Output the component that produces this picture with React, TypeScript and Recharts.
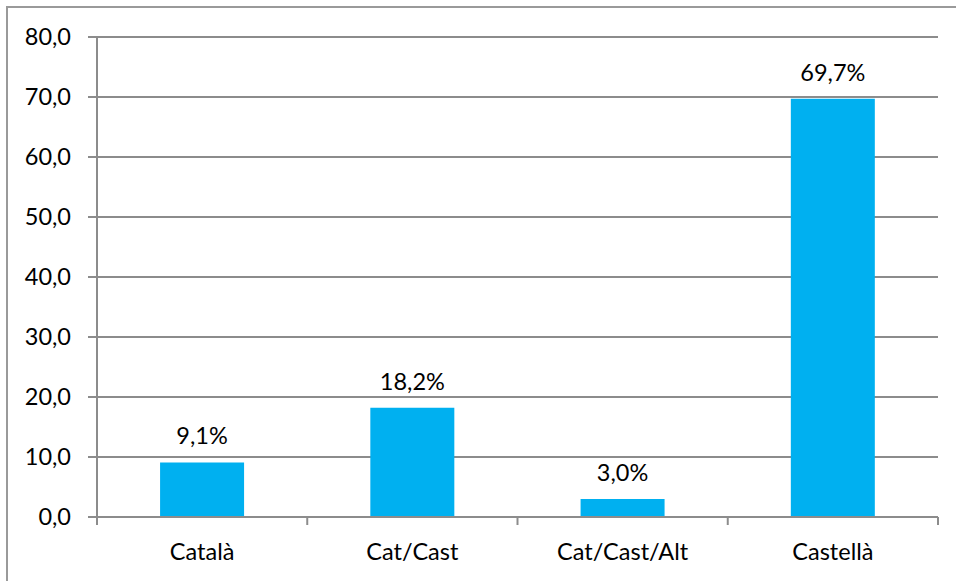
import { Bar, BarChart, CartesianGrid, LabelList, XAxis, YAxis } from "recharts";

const categories = ["Català", "Cat/Cast", "Cat/Cast/Alt", "Castellà"];
const shares = [9.1, 18.2, 3.0, 69.7];
const yTicks = [0, 10, 20, 30, 40, 50, 60, 70, 80];

const data = categories.map((name, i) => ({ name, value: shares[i] }));

const FONT = "Lato, 'Open Sans', sans-serif";
const FONT_SIZE = 23.5;
const AXIS = "#8c8c8c";

const comma = (v: number, digits = 1) => v.toFixed(digits).replace(".", ",");

function CategoryTick(props: any) {
  const { x, y, payload, index } = props;
  const off = payload?.offset ?? 0;
  const last = index === categories.length - 1;
  return (
    <g>
      <line x1={x - off} x2={x - off} y1={y} y2={y + 8} stroke={AXIS} strokeWidth={2} />
      {last && <line x1={x + off} x2={x + off} y1={y} y2={y + 8} stroke={AXIS} strokeWidth={2} />}
      <text x={x} y={y + 43} textAnchor="middle" fill="#000" fontSize={FONT_SIZE} fontFamily={FONT}>
        {payload.value}
      </text>
    </g>
  );
}

export default function App() {
  return (
    <div style={{ position: "absolute", left: 0, top: 0, width: 956, height: 581, background: "#fff" }}>
      <div
        style={{
          position: "absolute",
          left: 6,
          top: 6,
          width: 960,
          height: 590,
          borderLeft: "2px solid #9a9a9a",
          borderTop: "2px solid #9a9a9a",
        }}
      />
      <BarChart
        width={956}
        height={581}
        data={data}
        margin={{ top: 37, right: 18, bottom: 24, left: 0 }}
        barCategoryGap="30%"
        style={{ position: "absolute", left: 0, top: 0 }}
      >
        <CartesianGrid vertical={false} stroke={AXIS} strokeWidth={2} />
        <XAxis
          dataKey="name"
          height={40}
          axisLine={{ stroke: AXIS, strokeWidth: 2 }}
          tickLine={false}
          tickSize={0}
          tickMargin={0}
          interval={0}
          tick={<CategoryTick />}
        />
        <YAxis
          width={97}
          domain={[0, 80]}
          ticks={yTicks}
          interval={0}
          axisLine={{ stroke: AXIS, strokeWidth: 2 }}
          tickLine={{ stroke: AXIS, strokeWidth: 2 }}
          tickSize={9}
          tickMargin={17}
          tickFormatter={(v: number) => comma(v)}
          tick={{ fill: "#000", fontSize: FONT_SIZE, fontFamily: FONT }}
        />
        <Bar dataKey="value" fill="#00b0f0" isAnimationActive={false}>
          <LabelList
            dataKey="value"
            position="top"
            offset={18}
            formatter={(v: any) => `${comma(Number(v))}%`}
            style={{ fill: "#000", fontSize: FONT_SIZE, fontFamily: FONT }}
          />
        </Bar>
      </BarChart>
    </div>
  );
}
